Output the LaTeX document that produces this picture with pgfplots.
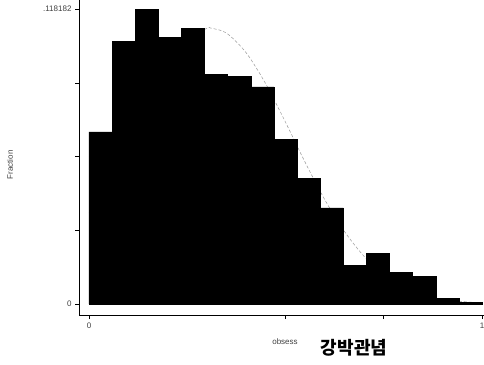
\documentclass[border=0pt]{standalone}
\usepackage{pgfplots}
\pgfplotsset{compat=1.18}
\usepackage{fontspec}
\setmainfont{Liberation Sans}
\newfontfamily\cjk{Noto Sans CJK KR}
\begin{document}
\begin{tikzpicture}[x=1pt,y=1pt]
\path[use as bounding box] (0,0) rectangle (484,364);
\begin{axis}[
  at={(79pt,49pt)}, anchor=south west,
  scale only axis, width=405pt, height=315pt,
  xmin=-0.0254, xmax=1.0051,
  ymin=-0.00441, ymax=0.12187,
  axis x line*=bottom, axis y line*=left,
  axis line style={-, black, line width=0.6pt},
  tick align=outside, tick style={black, line width=0.6pt},
  major tick length=4pt,
  xtick={0,0.5,0.75,1}, xticklabels={0,,,1},
  ytick={0,0.0295455,0.059091,0.0886365,0.118182},
  yticklabels={0,,,,.118182},
  tick label style={font=\fontsize{8}{9}\selectfont, text=black!75},
  /pgf/number format/assume math mode=true,
  clip=false,
]
% fitted density curve (drawn first so the bars hide it)
\addplot[gray!80, densely dashed, line width=0.5pt, smooth] coordinates {
(0,0.0364) (0.05,0.0506) (0.1,0.0664) (0.15,0.0823) (0.2,0.0962) (0.25,0.1061)
(0.3,0.1105) (0.31,0.1106) (0.35,0.1086) (0.4,0.1007) (0.45,0.0882) (0.5,0.0729)
(0.55,0.0568) (0.6,0.0418) (0.65,0.0291) (0.7,0.0191) (0.75,0.0118) (0.8,0.0069)
(0.85,0.0038) (0.9,0.0020) (0.95,0.0010) (1.0,0.00045)};
% histogram bars
\addplot[ybar interval, fill=black, draw=black] coordinates {
(0.0000,0.0690) (0.0588,0.1054) (0.1176,0.118182) (0.1765,0.1070)
(0.2353,0.1106) (0.2941,0.0922) (0.3529,0.0914) (0.4118,0.0870)
(0.4706,0.0661) (0.5294,0.0505) (0.5882,0.0385) (0.6471,0.0156)
(0.7059,0.0204) (0.7647,0.0128) (0.8235,0.0112) (0.8824,0.0024)
(0.9412,0.0008) (1.0000,0.0008)};
\end{axis}
\node[rotate=90, font=\fontsize{8}{9}\selectfont, text=black!75] at (10,199) {Fraction};
\node[font=\fontsize{8}{9}\selectfont, text=black!75] at (285,22) {obsess};
\node[font=\cjk\bfseries\fontsize{18}{19}\selectfont] at (354,16) {강박관념};
\end{tikzpicture}
\end{document}
